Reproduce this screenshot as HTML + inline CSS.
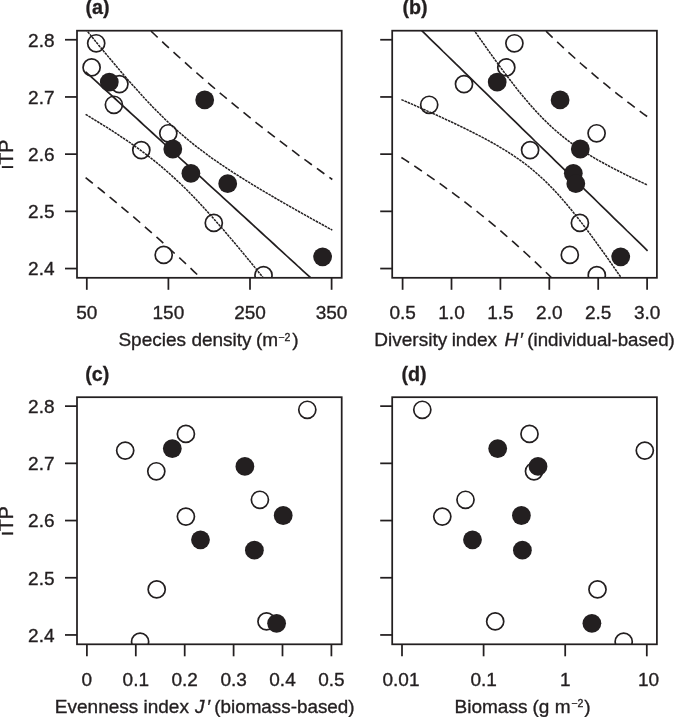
<!DOCTYPE html>
<html><head><meta charset="utf-8"><title>Figure</title>
<style>
html,body{margin:0;padding:0;background:#fff;}
svg{display:block;}
.t{font-family:"Liberation Sans",sans-serif;font-size:19.0px;fill:#231f20;stroke:#231f20;stroke-width:0.35px;}
.i{font-style:italic;}
.b{font-family:"Liberation Sans",sans-serif;font-size:19.7px;font-weight:bold;fill:#231f20;stroke:#231f20;stroke-width:0.3px;}
</style></head><body>
<svg width="675" height="717" viewBox="0 0 675 717">
<rect width="675" height="717" fill="#fff"/>
<clipPath id="clip0"><rect x="77.00" y="30.70" width="264.70" height="247.10"/></clipPath>
<g clip-path="url(#clip0)">
<circle cx="96.2" cy="43.3" r="8.55" fill="none" stroke="#231f20" stroke-width="1.7"/>
<circle cx="91.6" cy="67.4" r="8.55" fill="none" stroke="#231f20" stroke-width="1.7"/>
<circle cx="119.4" cy="84.1" r="8.55" fill="none" stroke="#231f20" stroke-width="1.7"/>
<circle cx="113.9" cy="104.8" r="8.55" fill="none" stroke="#231f20" stroke-width="1.7"/>
<circle cx="168.3" cy="133.3" r="8.55" fill="none" stroke="#231f20" stroke-width="1.7"/>
<circle cx="141.3" cy="150.1" r="8.55" fill="none" stroke="#231f20" stroke-width="1.7"/>
<circle cx="213.8" cy="222.9" r="8.55" fill="none" stroke="#231f20" stroke-width="1.7"/>
<circle cx="163.7" cy="254.9" r="8.55" fill="none" stroke="#231f20" stroke-width="1.7"/>
<circle cx="263.5" cy="275.1" r="8.55" fill="none" stroke="#231f20" stroke-width="1.7"/>
<path d="M85.6,71.8 L89.8,75.6 L94.0,79.4 L98.1,83.2 L102.3,87.1 L106.5,90.9 L110.7,94.7 L114.9,98.5 L119.1,102.4 L123.2,106.2 L127.4,110.0 L131.6,113.9 L135.8,117.7 L140.0,121.5 L144.1,125.3 L148.3,129.2 L152.5,133.0 L156.7,136.8 L160.9,140.7 L165.0,144.5 L169.2,148.3 L173.4,152.1 L177.6,156.0 L181.8,159.8 L186.0,163.6 L190.1,167.4 L194.3,171.3 L198.5,175.1 L202.7,178.9 L206.9,182.8 L211.0,186.6 L215.2,190.4 L219.4,194.2 L223.6,198.1 L227.8,201.9 L231.9,205.7 L236.1,209.5 L240.3,213.4 L244.5,217.2 L248.7,221.0 L252.9,224.9 L257.0,228.7 L261.2,232.5 L265.4,236.3 L269.6,240.2 L273.8,244.0 L277.9,247.8 L282.1,251.6 L286.3,255.5 L290.5,259.3 L294.7,263.1 L298.8,267.0 L303.0,270.8 L307.2,274.6 L311.4,278.4 L315.6,282.3 L319.8,286.1 L323.9,289.9 L328.1,293.8 L332.3,297.6" fill="none" stroke="#231f20" stroke-width="1.7"/>
<path d="M85.6,29.1 L89.8,34.2 L94.0,39.4 L98.1,44.5 L102.3,49.5 L106.5,54.6 L110.7,59.6 L114.9,64.5 L119.1,69.5 L123.2,74.3 L127.4,79.2 L131.6,83.9 L135.8,88.6 L140.0,93.2 L144.1,97.8 L148.3,102.3 L152.5,106.7 L156.7,110.9 L160.9,115.1 L165.0,119.2 L169.2,123.2 L173.4,127.1 L177.6,130.9 L181.8,134.5 L186.0,138.1 L190.1,141.5 L194.3,144.9 L198.5,148.2 L202.7,151.3 L206.9,154.4 L211.0,157.5 L215.2,160.4 L219.4,163.3 L223.6,166.1 L227.8,168.9 L231.9,171.7 L236.1,174.3 L240.3,177.0 L244.5,179.6 L248.7,182.2 L252.9,184.8 L257.0,187.3 L261.2,189.8 L265.4,192.3 L269.6,194.7 L273.8,197.2 L277.9,199.6 L282.1,202.0 L286.3,204.4 L290.5,206.8 L294.7,209.2 L298.8,211.5 L303.0,213.9 L307.2,216.2 L311.4,218.6 L315.6,220.9 L319.8,223.2 L323.9,225.5 L328.1,227.8 L332.3,230.1" fill="none" stroke="#231f20" stroke-width="1.5" stroke-dasharray="2.6 0.8"/>
<path d="M85.6,-34.2 L89.8,-29.8 L94.0,-25.5 L98.1,-21.2 L102.3,-16.9 L106.5,-12.6 L110.7,-8.4 L114.9,-4.2 L119.1,-0.0 L123.2,4.1 L127.4,8.3 L131.6,12.4 L135.8,16.5 L140.0,20.5 L144.1,24.5 L148.3,28.5 L152.5,32.5 L156.7,36.5 L160.9,40.4 L165.0,44.3 L169.2,48.2 L173.4,52.0 L177.6,55.8 L181.8,59.6 L186.0,63.3 L190.1,67.1 L194.3,70.8 L198.5,74.5 L202.7,78.1 L206.9,81.7 L211.0,85.3 L215.2,88.9 L219.4,92.5 L223.6,96.0 L227.8,99.5 L231.9,102.9 L236.1,106.4 L240.3,109.8 L244.5,113.2 L248.7,116.6 L252.9,119.9 L257.0,123.3 L261.2,126.6 L265.4,129.8 L269.6,133.1 L273.8,136.3 L277.9,139.5 L282.1,142.7 L286.3,145.9 L290.5,149.0 L294.7,152.2 L298.8,155.3 L303.0,158.4 L307.2,161.4 L311.4,164.5 L315.6,167.5 L319.8,170.5 L323.9,173.5 L328.1,176.5 L332.3,179.5" fill="none" stroke="#231f20" stroke-width="1.6" stroke-dasharray="9.2 6.2" stroke-dashoffset="0"/>
<path d="M85.6,114.4 L89.8,116.9 L94.0,119.5 L98.1,122.0 L102.3,124.6 L106.5,127.2 L110.7,129.9 L114.9,132.6 L119.1,135.3 L123.2,138.1 L127.4,140.9 L131.6,143.8 L135.8,146.8 L140.0,149.8 L144.1,152.9 L148.3,156.1 L152.5,159.3 L156.7,162.7 L160.9,166.2 L165.0,169.7 L169.2,173.4 L173.4,177.2 L177.6,181.1 L181.8,185.0 L186.0,189.1 L190.1,193.3 L194.3,197.6 L198.5,202.0 L202.7,206.5 L206.9,211.1 L211.0,215.7 L215.2,220.4 L219.4,225.2 L223.6,230.0 L227.8,234.9 L231.9,239.8 L236.1,244.7 L240.3,249.7 L244.5,254.8 L248.7,259.9 L252.9,265.0 L257.0,270.1 L261.2,275.2 L265.4,280.4 L269.6,285.6 L273.8,290.8 L277.9,296.0 L282.1,301.3 L286.3,306.5 L290.5,311.8 L294.7,317.1 L298.8,322.4 L303.0,327.7 L307.2,333.0 L311.4,338.3 L315.6,343.6 L319.8,349.0 L323.9,354.3 L328.1,359.7 L332.3,365.0" fill="none" stroke="#231f20" stroke-width="1.5" stroke-dasharray="2.6 0.8"/>
<path d="M85.6,177.7 L89.8,181.0 L94.0,184.3 L98.1,187.7 L102.3,191.0 L106.5,194.4 L110.7,197.9 L114.9,201.3 L119.1,204.8 L123.2,208.3 L127.4,211.8 L131.6,215.3 L135.8,218.9 L140.0,222.5 L144.1,226.1 L148.3,229.8 L152.5,233.5 L156.7,237.2 L160.9,240.9 L165.0,244.7 L169.2,248.5 L173.4,252.3 L177.6,256.1 L181.8,260.0 L186.0,263.9 L190.1,267.8 L194.3,271.8 L198.5,275.7 L202.7,279.7 L206.9,283.8 L211.0,287.8 L215.2,291.9 L219.4,296.0 L223.6,300.1 L227.8,304.3 L231.9,308.5 L236.1,312.7 L240.3,316.9 L244.5,321.2 L248.7,325.5 L252.9,329.8 L257.0,334.1 L261.2,338.5 L265.4,342.8 L269.6,347.2 L273.8,351.7 L277.9,356.1 L282.1,360.6 L286.3,365.1 L290.5,369.6 L294.7,374.1 L298.8,378.6 L303.0,383.2 L307.2,387.8 L311.4,392.4 L315.6,397.0 L319.8,401.7 L323.9,406.3 L328.1,411.0 L332.3,415.7" fill="none" stroke="#231f20" stroke-width="1.6" stroke-dasharray="9.2 6.2" stroke-dashoffset="0"/>
<circle cx="109.3" cy="82.1" r="9.40" fill="#231f20"/>
<circle cx="204.7" cy="99.9" r="9.40" fill="#231f20"/>
<circle cx="172.8" cy="149.0" r="9.40" fill="#231f20"/>
<circle cx="190.9" cy="173.3" r="9.40" fill="#231f20"/>
<circle cx="227.7" cy="183.7" r="9.40" fill="#231f20"/>
<circle cx="322.6" cy="256.8" r="9.40" fill="#231f20"/>
</g>
<rect x="77.00" y="30.70" width="264.70" height="247.10" fill="none" stroke="#231f20" stroke-width="1.75"/>
<line x1="65.00" x2="77.00" y1="39.75" y2="39.75" stroke="#231f20" stroke-width="1.75"/>
<text x="54.50" y="46.55" text-anchor="end" class="t">2.8</text>
<line x1="65.00" x2="77.00" y1="96.95" y2="96.95" stroke="#231f20" stroke-width="1.75"/>
<text x="54.50" y="103.75" text-anchor="end" class="t">2.7</text>
<line x1="65.00" x2="77.00" y1="154.15" y2="154.15" stroke="#231f20" stroke-width="1.75"/>
<text x="54.50" y="160.95" text-anchor="end" class="t">2.6</text>
<line x1="65.00" x2="77.00" y1="211.35" y2="211.35" stroke="#231f20" stroke-width="1.75"/>
<text x="54.50" y="218.15" text-anchor="end" class="t">2.5</text>
<line x1="65.00" x2="77.00" y1="268.55" y2="268.55" stroke="#231f20" stroke-width="1.75"/>
<text x="54.50" y="275.35" text-anchor="end" class="t">2.4</text>
<line x1="86.80" x2="86.80" y1="277.80" y2="289.80" stroke="#231f20" stroke-width="1.75"/>
<text x="86.80" y="319.00" text-anchor="middle" class="t">50</text>
<line x1="168.40" x2="168.40" y1="277.80" y2="289.80" stroke="#231f20" stroke-width="1.75"/>
<text x="168.40" y="319.00" text-anchor="middle" class="t">150</text>
<line x1="250.00" x2="250.00" y1="277.80" y2="289.80" stroke="#231f20" stroke-width="1.75"/>
<text x="250.00" y="319.00" text-anchor="middle" class="t">250</text>
<line x1="331.60" x2="331.60" y1="277.80" y2="289.80" stroke="#231f20" stroke-width="1.75"/>
<text x="331.60" y="319.00" text-anchor="middle" class="t">350</text>
<text x="85.42" y="14.20" class="b" style="font-size:19.7px">(a)</text>
<text transform="translate(13.4,154.45) rotate(-90)" text-anchor="middle" class="t" style="font-size:19.6px">iTP</text>
<clipPath id="clip1"><rect x="392.20" y="30.70" width="264.70" height="247.10"/></clipPath>
<g clip-path="url(#clip1)">
<circle cx="514.4" cy="43.3" r="8.55" fill="none" stroke="#231f20" stroke-width="1.7"/>
<circle cx="506.3" cy="67.4" r="8.55" fill="none" stroke="#231f20" stroke-width="1.7"/>
<circle cx="464.0" cy="84.1" r="8.55" fill="none" stroke="#231f20" stroke-width="1.7"/>
<circle cx="429.2" cy="104.8" r="8.55" fill="none" stroke="#231f20" stroke-width="1.7"/>
<circle cx="596.6" cy="133.3" r="8.55" fill="none" stroke="#231f20" stroke-width="1.7"/>
<circle cx="530.1" cy="150.1" r="8.55" fill="none" stroke="#231f20" stroke-width="1.7"/>
<circle cx="579.9" cy="222.9" r="8.55" fill="none" stroke="#231f20" stroke-width="1.7"/>
<circle cx="569.8" cy="254.9" r="8.55" fill="none" stroke="#231f20" stroke-width="1.7"/>
<circle cx="596.8" cy="275.1" r="8.55" fill="none" stroke="#231f20" stroke-width="1.7"/>
<path d="M401.4,10.8 L405.6,14.8 L409.7,18.9 L413.9,23.0 L418.1,27.0 L422.3,31.1 L426.4,35.2 L430.6,39.3 L434.8,43.3 L439.0,47.4 L443.1,51.5 L447.3,55.5 L451.5,59.6 L455.6,63.7 L459.8,67.7 L464.0,71.8 L468.2,75.9 L472.3,79.9 L476.5,84.0 L480.7,88.1 L484.9,92.1 L489.0,96.2 L493.2,100.3 L497.4,104.3 L501.5,108.4 L505.7,112.5 L509.9,116.6 L514.1,120.6 L518.2,124.7 L522.4,128.8 L526.6,132.8 L530.8,136.9 L534.9,141.0 L539.1,145.0 L543.3,149.1 L547.5,153.2 L551.6,157.2 L555.8,161.3 L560.0,165.4 L564.1,169.4 L568.3,173.5 L572.5,177.6 L576.7,181.6 L580.8,185.7 L585.0,189.8 L589.2,193.9 L593.4,197.9 L597.5,202.0 L601.7,206.1 L605.9,210.1 L610.0,214.2 L614.2,218.3 L618.4,222.3 L622.6,226.4 L626.7,230.5 L630.9,234.5 L635.1,238.6 L639.3,242.7 L643.4,246.7 L647.6,250.8" fill="none" stroke="#231f20" stroke-width="1.7"/>
<path d="M401.4,-78.0 L405.6,-71.7 L409.7,-65.4 L413.9,-59.1 L418.1,-52.8 L422.3,-46.5 L426.4,-40.2 L430.6,-33.9 L434.8,-27.7 L439.0,-21.5 L443.1,-15.2 L447.3,-9.0 L451.5,-2.8 L455.6,3.3 L459.8,9.5 L464.0,15.6 L468.2,21.7 L472.3,27.7 L476.5,33.7 L480.7,39.7 L484.9,45.6 L489.0,51.5 L493.2,57.3 L497.4,63.1 L501.5,68.7 L505.7,74.3 L509.9,79.8 L514.1,85.2 L518.2,90.5 L522.4,95.6 L526.6,100.6 L530.8,105.4 L534.9,110.1 L539.1,114.6 L543.3,118.9 L547.5,123.0 L551.6,126.9 L555.8,130.7 L560.0,134.2 L564.1,137.6 L568.3,140.8 L572.5,143.9 L576.7,146.8 L580.8,149.6 L585.0,152.3 L589.2,154.9 L593.4,157.4 L597.5,159.8 L601.7,162.1 L605.9,164.4 L610.0,166.7 L614.2,168.8 L618.4,171.0 L622.6,173.1 L626.7,175.2 L630.9,177.2 L635.1,179.2 L639.3,181.2 L643.4,183.1 L647.6,185.1" fill="none" stroke="#231f20" stroke-width="1.5" stroke-dasharray="2.6 0.8"/>
<path d="M401.4,-135.9 L405.6,-130.5 L409.7,-125.1 L413.9,-119.7 L418.1,-114.4 L422.3,-109.1 L426.4,-103.8 L430.6,-98.6 L434.8,-93.3 L439.0,-88.2 L443.1,-83.0 L447.3,-77.9 L451.5,-72.8 L455.6,-67.8 L459.8,-62.8 L464.0,-57.8 L468.2,-52.9 L472.3,-48.0 L476.5,-43.1 L480.7,-38.3 L484.9,-33.6 L489.0,-28.8 L493.2,-24.1 L497.4,-19.5 L501.5,-14.9 L505.7,-10.4 L509.9,-5.9 L514.1,-1.4 L518.2,3.0 L522.4,7.4 L526.6,11.7 L530.8,16.0 L534.9,20.2 L539.1,24.4 L543.3,28.5 L547.5,32.6 L551.6,36.6 L555.8,40.6 L560.0,44.5 L564.1,48.4 L568.3,52.2 L572.5,56.0 L576.7,59.8 L580.8,63.5 L585.0,67.1 L589.2,70.7 L593.4,74.3 L597.5,77.8 L601.7,81.3 L605.9,84.7 L610.0,88.1 L614.2,91.5 L618.4,94.8 L622.6,98.0 L626.7,101.3 L630.9,104.4 L635.1,107.6 L639.3,110.7 L643.4,113.8 L647.6,116.8" fill="none" stroke="#231f20" stroke-width="1.6" stroke-dasharray="9.2 6.2" stroke-dashoffset="-5.6"/>
<path d="M401.4,99.6 L405.6,101.4 L409.7,103.2 L413.9,105.0 L418.1,106.9 L422.3,108.7 L426.4,110.6 L430.6,112.5 L434.8,114.3 L439.0,116.2 L443.1,118.1 L447.3,120.1 L451.5,122.0 L455.6,124.0 L459.8,126.0 L464.0,128.0 L468.2,130.1 L472.3,132.2 L476.5,134.3 L480.7,136.4 L484.9,138.7 L489.0,140.9 L493.2,143.2 L497.4,145.6 L501.5,148.1 L505.7,150.6 L509.9,153.3 L514.1,156.0 L518.2,158.9 L522.4,161.9 L526.6,165.0 L530.8,168.3 L534.9,171.8 L539.1,175.5 L543.3,179.3 L547.5,183.3 L551.6,187.5 L555.8,191.9 L560.0,196.5 L564.1,201.3 L568.3,206.2 L572.5,211.3 L576.7,216.5 L580.8,221.8 L585.0,227.3 L589.2,232.8 L593.4,238.5 L597.5,244.2 L601.7,250.0 L605.9,255.8 L610.0,261.7 L614.2,267.7 L618.4,273.7 L622.6,279.7 L626.7,285.8 L630.9,291.9 L635.1,298.0 L639.3,304.2 L643.4,310.3 L647.6,316.5" fill="none" stroke="#231f20" stroke-width="1.5" stroke-dasharray="2.6 0.8"/>
<path d="M401.4,157.5 L405.6,160.2 L409.7,162.9 L413.9,165.7 L418.1,168.5 L422.3,171.3 L426.4,174.2 L430.6,177.1 L434.8,180.0 L439.0,182.9 L443.1,185.9 L447.3,189.0 L451.5,192.0 L455.6,195.1 L459.8,198.2 L464.0,201.4 L468.2,204.6 L472.3,207.9 L476.5,211.1 L480.7,214.5 L484.9,217.8 L489.0,221.2 L493.2,224.7 L497.4,228.2 L501.5,231.7 L505.7,235.3 L509.9,239.0 L514.1,242.6 L518.2,246.4 L522.4,250.1 L526.6,254.0 L530.8,257.8 L534.9,261.7 L539.1,265.7 L543.3,269.7 L547.5,273.8 L551.6,277.9 L555.8,282.0 L560.0,286.2 L564.1,290.5 L568.3,294.8 L572.5,299.1 L576.7,303.5 L580.8,307.9 L585.0,312.4 L589.2,317.0 L593.4,321.5 L597.5,326.2 L601.7,330.8 L605.9,335.5 L610.0,340.3 L614.2,345.1 L618.4,349.9 L622.6,354.8 L626.7,359.7 L630.9,364.6 L635.1,369.6 L639.3,374.6 L643.4,379.7 L647.6,384.8" fill="none" stroke="#231f20" stroke-width="1.6" stroke-dasharray="9.2 6.2" stroke-dashoffset="0"/>
<circle cx="497.2" cy="82.1" r="9.40" fill="#231f20"/>
<circle cx="560.1" cy="99.9" r="9.40" fill="#231f20"/>
<circle cx="580.3" cy="149.0" r="9.40" fill="#231f20"/>
<circle cx="573.3" cy="173.3" r="9.40" fill="#231f20"/>
<circle cx="575.8" cy="183.7" r="9.40" fill="#231f20"/>
<circle cx="620.7" cy="256.8" r="9.40" fill="#231f20"/>
</g>
<rect x="392.20" y="30.70" width="264.70" height="247.10" fill="none" stroke="#231f20" stroke-width="1.75"/>
<line x1="380.20" x2="392.20" y1="39.75" y2="39.75" stroke="#231f20" stroke-width="1.75"/>
<line x1="380.20" x2="392.20" y1="96.95" y2="96.95" stroke="#231f20" stroke-width="1.75"/>
<line x1="380.20" x2="392.20" y1="154.15" y2="154.15" stroke="#231f20" stroke-width="1.75"/>
<line x1="380.20" x2="392.20" y1="211.35" y2="211.35" stroke="#231f20" stroke-width="1.75"/>
<line x1="380.20" x2="392.20" y1="268.55" y2="268.55" stroke="#231f20" stroke-width="1.75"/>
<line x1="402.60" x2="402.60" y1="277.80" y2="289.80" stroke="#231f20" stroke-width="1.75"/>
<text x="402.60" y="319.00" text-anchor="middle" class="t">0.5</text>
<line x1="451.50" x2="451.50" y1="277.80" y2="289.80" stroke="#231f20" stroke-width="1.75"/>
<text x="451.50" y="319.00" text-anchor="middle" class="t">1.0</text>
<line x1="500.40" x2="500.40" y1="277.80" y2="289.80" stroke="#231f20" stroke-width="1.75"/>
<text x="500.40" y="319.00" text-anchor="middle" class="t">1.5</text>
<line x1="549.30" x2="549.30" y1="277.80" y2="289.80" stroke="#231f20" stroke-width="1.75"/>
<text x="549.30" y="319.00" text-anchor="middle" class="t">2.0</text>
<line x1="598.20" x2="598.20" y1="277.80" y2="289.80" stroke="#231f20" stroke-width="1.75"/>
<text x="598.20" y="319.00" text-anchor="middle" class="t">2.5</text>
<line x1="647.10" x2="647.10" y1="277.80" y2="289.80" stroke="#231f20" stroke-width="1.75"/>
<text x="647.10" y="319.00" text-anchor="middle" class="t">3.0</text>
<text x="402.42" y="14.20" class="b" style="font-size:19.7px">(b)</text>
<clipPath id="clip2"><rect x="77.00" y="397.20" width="264.70" height="247.10"/></clipPath>
<g clip-path="url(#clip2)">
<circle cx="307.3" cy="409.8" r="8.55" fill="none" stroke="#231f20" stroke-width="1.7"/>
<circle cx="185.9" cy="433.9" r="8.55" fill="none" stroke="#231f20" stroke-width="1.7"/>
<circle cx="125.2" cy="450.6" r="8.55" fill="none" stroke="#231f20" stroke-width="1.7"/>
<circle cx="156.3" cy="471.3" r="8.55" fill="none" stroke="#231f20" stroke-width="1.7"/>
<circle cx="259.9" cy="499.8" r="8.55" fill="none" stroke="#231f20" stroke-width="1.7"/>
<circle cx="185.9" cy="516.6" r="8.55" fill="none" stroke="#231f20" stroke-width="1.7"/>
<circle cx="156.7" cy="589.4" r="8.55" fill="none" stroke="#231f20" stroke-width="1.7"/>
<circle cx="266.5" cy="621.4" r="8.55" fill="none" stroke="#231f20" stroke-width="1.7"/>
<circle cx="140.1" cy="641.6" r="8.55" fill="none" stroke="#231f20" stroke-width="1.7"/>
<circle cx="172.3" cy="448.6" r="9.40" fill="#231f20"/>
<circle cx="244.9" cy="466.4" r="9.40" fill="#231f20"/>
<circle cx="283.2" cy="515.5" r="9.40" fill="#231f20"/>
<circle cx="200.5" cy="539.8" r="9.40" fill="#231f20"/>
<circle cx="254.4" cy="550.2" r="9.40" fill="#231f20"/>
<circle cx="276.6" cy="623.3" r="9.40" fill="#231f20"/>
</g>
<rect x="77.00" y="397.20" width="264.70" height="247.10" fill="none" stroke="#231f20" stroke-width="1.75"/>
<line x1="65.00" x2="77.00" y1="406.15" y2="406.15" stroke="#231f20" stroke-width="1.75"/>
<text x="54.50" y="412.95" text-anchor="end" class="t">2.8</text>
<line x1="65.00" x2="77.00" y1="463.35" y2="463.35" stroke="#231f20" stroke-width="1.75"/>
<text x="54.50" y="470.15" text-anchor="end" class="t">2.7</text>
<line x1="65.00" x2="77.00" y1="520.55" y2="520.55" stroke="#231f20" stroke-width="1.75"/>
<text x="54.50" y="527.35" text-anchor="end" class="t">2.6</text>
<line x1="65.00" x2="77.00" y1="577.75" y2="577.75" stroke="#231f20" stroke-width="1.75"/>
<text x="54.50" y="584.55" text-anchor="end" class="t">2.5</text>
<line x1="65.00" x2="77.00" y1="634.95" y2="634.95" stroke="#231f20" stroke-width="1.75"/>
<text x="54.50" y="641.75" text-anchor="end" class="t">2.4</text>
<line x1="86.90" x2="86.90" y1="644.30" y2="656.30" stroke="#231f20" stroke-width="1.75"/>
<text x="86.90" y="685.50" text-anchor="middle" class="t">0</text>
<line x1="135.80" x2="135.80" y1="644.30" y2="656.30" stroke="#231f20" stroke-width="1.75"/>
<text x="135.80" y="685.50" text-anchor="middle" class="t">0.1</text>
<line x1="184.70" x2="184.70" y1="644.30" y2="656.30" stroke="#231f20" stroke-width="1.75"/>
<text x="184.70" y="685.50" text-anchor="middle" class="t">0.2</text>
<line x1="233.60" x2="233.60" y1="644.30" y2="656.30" stroke="#231f20" stroke-width="1.75"/>
<text x="233.60" y="685.50" text-anchor="middle" class="t">0.3</text>
<line x1="282.50" x2="282.50" y1="644.30" y2="656.30" stroke="#231f20" stroke-width="1.75"/>
<text x="282.50" y="685.50" text-anchor="middle" class="t">0.4</text>
<line x1="331.40" x2="331.40" y1="644.30" y2="656.30" stroke="#231f20" stroke-width="1.75"/>
<text x="331.40" y="685.50" text-anchor="middle" class="t">0.5</text>
<text x="85.32" y="380.70" class="b" style="font-size:19.7px">(c)</text>
<text transform="translate(13.4,520.95) rotate(-90)" text-anchor="middle" class="t" style="font-size:19.6px">iTP</text>
<clipPath id="clip3"><rect x="392.20" y="397.20" width="264.70" height="247.10"/></clipPath>
<g clip-path="url(#clip3)">
<circle cx="422.3" cy="409.8" r="8.55" fill="none" stroke="#231f20" stroke-width="1.7"/>
<circle cx="529.5" cy="433.9" r="8.55" fill="none" stroke="#231f20" stroke-width="1.7"/>
<circle cx="644.8" cy="450.6" r="8.55" fill="none" stroke="#231f20" stroke-width="1.7"/>
<circle cx="534.0" cy="471.3" r="8.55" fill="none" stroke="#231f20" stroke-width="1.7"/>
<circle cx="465.5" cy="499.8" r="8.55" fill="none" stroke="#231f20" stroke-width="1.7"/>
<circle cx="442.3" cy="516.6" r="8.55" fill="none" stroke="#231f20" stroke-width="1.7"/>
<circle cx="597.5" cy="589.4" r="8.55" fill="none" stroke="#231f20" stroke-width="1.7"/>
<circle cx="495.2" cy="621.4" r="8.55" fill="none" stroke="#231f20" stroke-width="1.7"/>
<circle cx="623.7" cy="641.6" r="8.55" fill="none" stroke="#231f20" stroke-width="1.7"/>
<circle cx="497.7" cy="448.6" r="9.40" fill="#231f20"/>
<circle cx="538.0" cy="466.4" r="9.40" fill="#231f20"/>
<circle cx="521.4" cy="515.5" r="9.40" fill="#231f20"/>
<circle cx="472.5" cy="539.8" r="9.40" fill="#231f20"/>
<circle cx="522.4" cy="550.2" r="9.40" fill="#231f20"/>
<circle cx="591.9" cy="623.3" r="9.40" fill="#231f20"/>
</g>
<rect x="392.20" y="397.20" width="264.70" height="247.10" fill="none" stroke="#231f20" stroke-width="1.75"/>
<line x1="380.20" x2="392.20" y1="406.15" y2="406.15" stroke="#231f20" stroke-width="1.75"/>
<line x1="380.20" x2="392.20" y1="463.35" y2="463.35" stroke="#231f20" stroke-width="1.75"/>
<line x1="380.20" x2="392.20" y1="520.55" y2="520.55" stroke="#231f20" stroke-width="1.75"/>
<line x1="380.20" x2="392.20" y1="577.75" y2="577.75" stroke="#231f20" stroke-width="1.75"/>
<line x1="380.20" x2="392.20" y1="634.95" y2="634.95" stroke="#231f20" stroke-width="1.75"/>
<line x1="402.00" x2="402.00" y1="644.30" y2="656.30" stroke="#231f20" stroke-width="1.75"/>
<text x="401.00" y="685.50" text-anchor="middle" class="t">0.01</text>
<line x1="483.60" x2="483.60" y1="644.30" y2="656.30" stroke="#231f20" stroke-width="1.75"/>
<text x="483.60" y="685.50" text-anchor="middle" class="t">0.1</text>
<line x1="565.20" x2="565.20" y1="644.30" y2="656.30" stroke="#231f20" stroke-width="1.75"/>
<text x="565.20" y="685.50" text-anchor="middle" class="t">1</text>
<line x1="646.80" x2="646.80" y1="644.30" y2="656.30" stroke="#231f20" stroke-width="1.75"/>
<text x="648.60" y="685.50" text-anchor="middle" class="t">10</text>
<text x="401.52" y="380.70" class="b" style="font-size:19.7px">(d)</text>
<text class="t"><tspan x="118.44" y="346.10">Species </tspan><tspan x="191.40" y="346.10">density </tspan><tspan x="256.02" y="346.10">(m</tspan><tspan x="278.28" y="340.80" style="font-size:10.5px;">−2</tspan><tspan x="292.29" y="346.10">)</tspan></text>
<text class="t"><tspan x="374.34" y="346.10">Diversity </tspan><tspan x="451.63" y="346.10">index </tspan><tspan x="504.52" y="346.10" style="font-style:italic;">H</tspan><tspan x="519.31" y="346.10" style="font-style:italic;">′ </tspan><tspan x="527.34" y="346.10" style="font-size:18.7px;">(individual-based)</tspan></text>
<text class="t"><tspan x="54.84" y="712.60">Evenness </tspan><tspan x="143.53" y="712.60">index </tspan><tspan x="195.05" y="712.60" style="font-style:italic;">J</tspan><tspan x="206.61" y="712.60" style="font-style:italic;">′ </tspan><tspan x="214.23" y="712.60" style="font-size:18.85px;">(biomass-based)</tspan></text>
<text class="t"><tspan x="454.54" y="712.60">Biomass </tspan><tspan x="532.42" y="712.60">(g </tspan><tspan x="554.84" y="712.60">m</tspan><tspan x="571.28" y="707.30" style="font-size:10.5px;">−2</tspan><tspan x="584.29" y="712.60">)</tspan></text>
</svg>
</body></html>
